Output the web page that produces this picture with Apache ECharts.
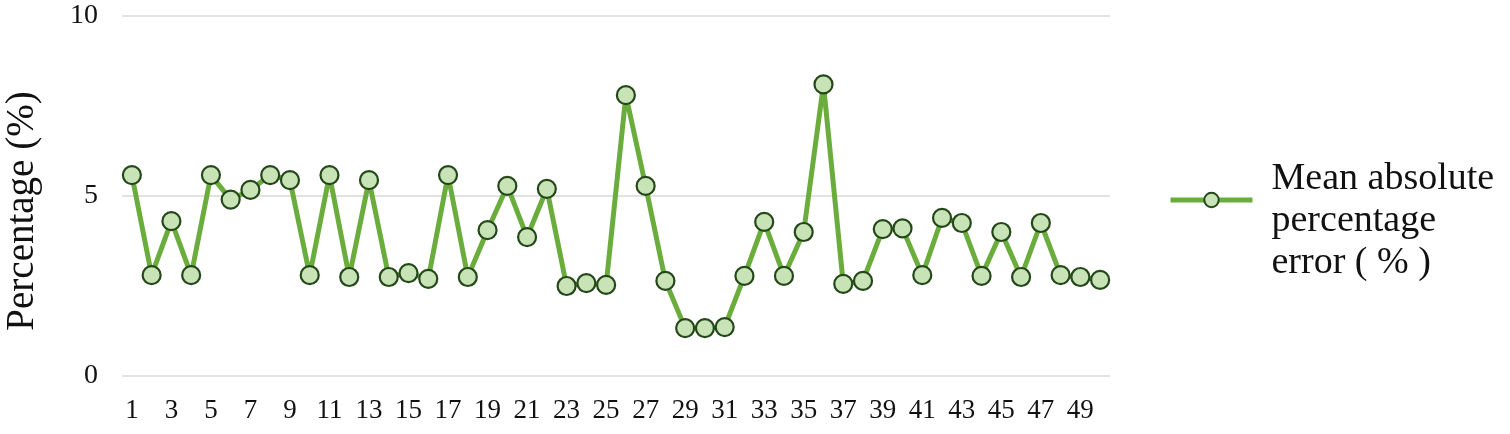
<!DOCTYPE html>
<html>
<head>
<meta charset="utf-8">
<script src="https://cdn.jsdelivr.net/npm/echarts@6/dist/echarts.min.js"></script>
<style>
  html, body { margin: 0; padding: 0; background: #fff; }
  #chart { width: 1510px; height: 434px; }
</style>
</head>
<body>
<div id="chart"></div>
<script>
// sample index 1..50
var categories = []
for (var i = 1; i <= 50; i++) categories.push(String(i))

// mean absolute percentage error (%)
var mape = [
  5.58, 2.8, 4.3, 2.8, 5.58, 4.9, 5.17, 5.58, 5.44, 2.8,
  5.58, 2.75, 5.44, 2.75, 2.86, 2.7, 5.58, 2.75, 4.05, 5.28,
  3.86, 5.2, 2.5, 2.58, 2.53, 7.8, 5.28, 2.64, 1.33, 1.33,
  1.36, 2.78, 4.28, 2.78, 4.0, 8.1, 2.56, 2.64, 4.08, 4.1,
  2.8, 4.39, 4.25, 2.78, 4.0, 2.75, 4.25, 2.8, 2.75, 2.67
]

var yTicks = [0, 5, 10]
var seriesName = 'Mean absolute percentage error ( % )'
var legendLines = ['Mean absolute', 'percentage', 'error ( % )']

var font = '"Liberation Serif", "DejaVu Serif", serif'

var chart = echarts.init(document.getElementById('chart'))
chart.setOption({
  animation: false,
  textStyle: { fontFamily: font },
  grid: { left: 122, right: 400, top: 16, bottom: 58, containLabel: false, outerBoundsMode: 'none' },
  legend: {
    orient: 'vertical',
    left: 1163,
    top: 111,
    itemWidth: 82,
    itemHeight: 18,
    itemGap: 0,
    lineStyle: { width: 5 },
    // blank first line so the icon sits between the first two lines, like the original
    formatter: function () {
      return '\n' + legendLines.map(function (l) { return '{s| }{t|' + l + '}' }).join('\n')
    },
    textStyle: {
      fontFamily: font, fontSize: 38, color: '#111', lineHeight: 42,
      rich: {
        s: { width: 14, fontSize: 38, lineHeight: 42 },
        t: { fontFamily: font, fontSize: 38, color: '#111', lineHeight: 42 }
      }
    },
    data: [seriesName]
  },
  xAxis: {
    type: 'category',
    data: categories,
    boundaryGap: true,
    axisLine: { show: false },
    axisTick: { show: false },
    axisLabel: { interval: 1, fontFamily: font, fontSize: 27, color: '#111', margin: 21 }
  },
  yAxis: {
    type: 'value',
    min: yTicks[0],
    max: yTicks[yTicks.length - 1],
    interval: 5,
    name: 'Percentage (%)',
    nameLocation: 'middle',
    nameGap: 80,
    nameTextStyle: { fontFamily: font, fontSize: 39, color: '#111', padding: [0, 30, 0, 0] },
    axisLine: { show: false },
    axisTick: { show: false },
    axisLabel: { fontFamily: font, fontSize: 28, color: '#111', margin: 24 },
    splitLine: { lineStyle: { color: '#d9d9d9', width: 1.5 } }
  },
  series: [
    {
      name: seriesName,
      type: 'line',
      data: mape,
      symbol: 'circle',
      symbolSize: 18,
      showAllSymbol: true,
      lineStyle: { color: '#6aad3d', width: 5 },
      itemStyle: { color: '#c8e3b6', borderColor: '#24481a', borderWidth: 2.2 }
    }
  ]
})
</script>
</body>
</html>
